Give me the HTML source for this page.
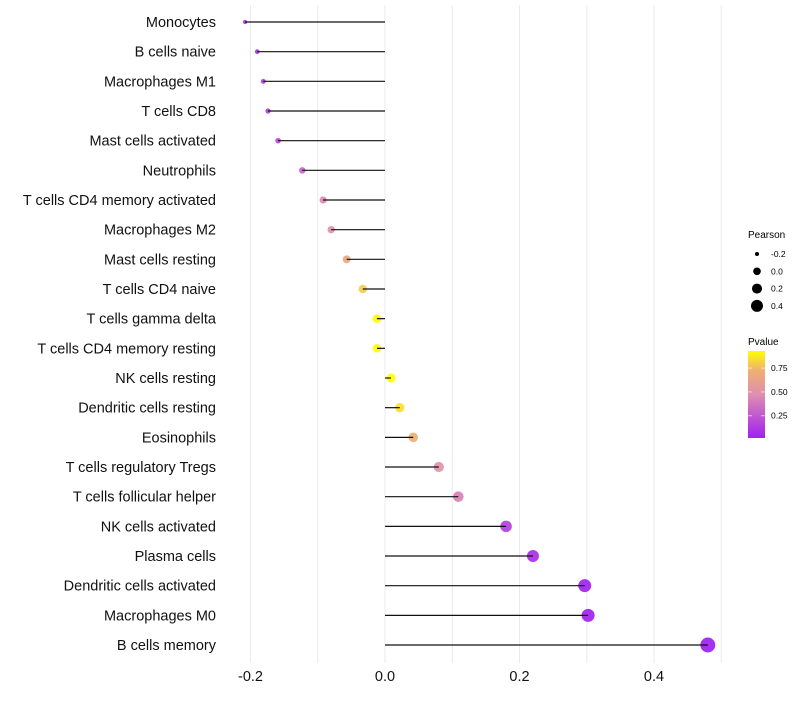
<!DOCTYPE html>
<html><head><meta charset="utf-8">
<style>
html,body{margin:0;padding:0;background:#fff;}
svg text{font-family:"Liberation Sans",sans-serif;}
</style></head>
<body>
<svg id="chart" width="800" height="700" xmlns="http://www.w3.org/2000/svg">
<g id="grid"></g>
<g id="dots"></g>
<g id="marks"></g>
<g id="ylabels"></g>
<g id="xlabels"></g>
<g id="sizeLegend">
<text x="748" y="238" font-size="10">Pearson</text>
</g>
<defs><linearGradient id="pg" x1="0" y1="1" x2="0" y2="0">
<stop offset="0" stop-color="#a020f0"/><stop offset="0.5" stop-color="#e08eb0"/><stop offset="0.78" stop-color="#f0b070"/><stop offset="1" stop-color="#ffff00"/>
</linearGradient></defs>
<g id="colLegend">
<text x="748" y="345" font-size="10">Pvalue</text>
<rect x="748" y="351" width="17" height="87" fill="url(#pg)"/>
</g>
</svg>
<script>
const categories=["Monocytes","B cells naive","Macrophages M1","T cells CD8","Mast cells activated","Neutrophils","T cells CD4 memory activated","Macrophages M2","Mast cells resting","T cells CD4 naive","T cells gamma delta","T cells CD4 memory resting","NK cells resting","Dendritic cells resting","Eosinophils","T cells regulatory  Tregs","T cells follicular helper","NK cells activated","Plasma cells","Dendritic cells activated","Macrophages M0","B cells memory"];
const pearson=[-0.208,-0.19,-0.181,-0.174,-0.159,-0.123,-0.092,-0.080,-0.057,-0.033,-0.012,-0.012,0.009,0.022,0.042,0.080,0.109,0.180,0.220,0.297,0.302,0.480];
const pvalue=[0.05,0.1,0.15,0.15,0.2,0.3,0.45,0.5,0.66,0.8,0.95,0.95,0.95,0.85,0.72,0.5,0.42,0.15,0.08,0.03,0.02,0.01];
const xTicks=[-0.2,0,0.2,0.4];
const xTickLabels=["-0.2","0.0","0.2","0.4"];
const gridVals=[-0.2,-0.1,0,0.1,0.2,0.3,0.4,0.5];
const sizeVals=[-0.2,0,0.2,0.4];
const sizeLabels=["-0.2","0.0","0.2","0.4"];
const colVals=[0.25,0.5,0.75];
const colLabels=["0.25","0.50","0.75"];

const NS="http://www.w3.org/2000/svg";
const x=v=>385+v*672.5;
const y=i=>22+i*29.667;
const r=v=>Math.sqrt(Math.max(1,19.8+75*v));
const rl=v=>Math.sqrt(Math.max(1,14.67+53.3*v));
function lerp(a,b,t){return a+(b-a)*t;}
function col(p){
  const t=Math.min(1,Math.max(0,(p-0.016)/(0.93-0.016)));
  const st=[0,0.5,0.78,1];
  const s=[[160,32,240],[224,142,176],[240,176,112],[255,255,0]];
  let k=0; while(k<st.length-2&&t>st[k+1])k++;
  const u=(t-st[k])/(st[k+1]-st[k]);const c1=s[k],c2=s[k+1];
  return `rgb(${Math.round(lerp(c1[0],c2[0],u))},${Math.round(lerp(c1[1],c2[1],u))},${Math.round(lerp(c1[2],c2[2],u))})`;
}
function mk(tag,attrs,parent){const e=document.createElementNS(NS,tag);for(const k in attrs)e.setAttribute(k,attrs[k]);parent.appendChild(e);return e;}
const grid=document.getElementById('grid'),marks=document.getElementById('marks'),dots=document.getElementById('dots'),yl=document.getElementById('ylabels'),xl=document.getElementById('xlabels');
gridVals.forEach(v=>{const l=mk('line',{x1:x(v),x2:x(v),y1:5,y2:663,stroke:'#ebebeb','stroke-width':1},grid);

});
categories.forEach((c,i)=>{
  const d=mk('circle',{cx:x(pearson[i]),cy:y(i),r:r(pearson[i]),fill:col(pvalue[i]),'fill-opacity':0.92},dots);
  
  
  const ln=mk('line',{x1:x(0),x2:x(pearson[i]),y1:y(i),y2:y(i),stroke:'#111','stroke-width':1.2},marks);
  
  
  const t=mk('text',{x:216,y:y(i)+5,'text-anchor':'end','font-size':14.5,fill:'#111'},yl);
  t.textContent=c;
  
  
});
xTicks.forEach((v,i)=>{const t=mk('text',{x:x(v),y:681,'text-anchor':'middle','font-size':14.5,fill:'#111'},xl);t.textContent=xTickLabels[i];

});
const sl=document.getElementById('sizeLegend');
sizeVals.forEach((v,i)=>{const cy=254+i*17.3;
const c=mk('circle',{cx:757,cy:cy,r:rl(v),fill:'#000'},sl);


const t=mk('text',{x:771,y:cy+3,'font-size':8.5},sl);t.textContent=sizeLabels[i];

});
const cl=document.getElementById('colLegend');
colVals.forEach((v,i)=>{const cy=438-(v-0.016)/(0.93-0.016)*87;
mk('line',{x1:748,x2:752,y1:cy,y2:cy,stroke:'#fff','stroke-opacity':0.6},cl);
mk('line',{x1:761,x2:765,y1:cy,y2:cy,stroke:'#fff','stroke-opacity':0.6},cl);
const t=mk('text',{x:771,y:cy+3,'font-size':8.5},cl);t.textContent=colLabels[i];

});
</script>
</body></html>
